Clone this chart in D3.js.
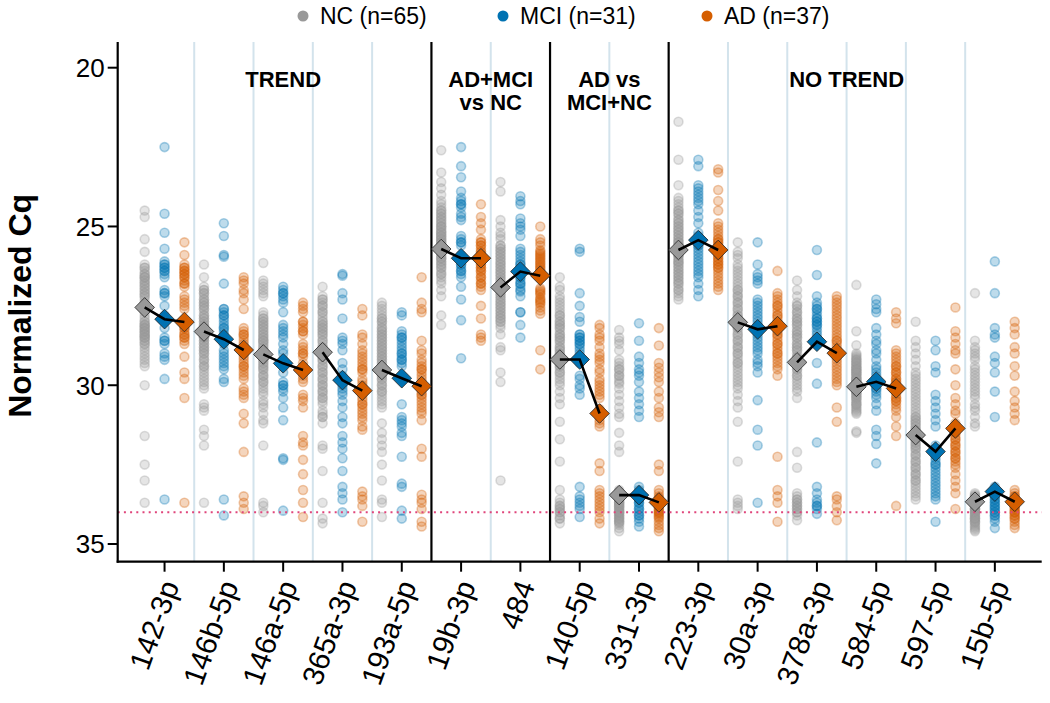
<!DOCTYPE html>
<html><head><meta charset="utf-8">
<script src="https://cdn.jsdelivr.net/npm/d3@7"></script>
<style>body{margin:0;background:#fff} svg{display:block}</style>
</head><body>
<svg id="c" width="1050" height="703"></svg>
<script>
const categories = ["142-3p","146b-5p","146a-5p","365a-3p","193a-5p","19b-3p","484","140-5p","331-3p","223-3p","30a-3p","378a-3p","584-5p","597-5p","15b-5p"];
const groups = ["NC (n=65)","MCI (n=31)","AD (n=37)"];
const groupColors = ["#999999","#0072B2","#D55E00"];
const yTicks = [20,25,30,35];
const threshold = 34;
const sections = [
  {lines:["TREND"], from:0, to:4},
  {lines:["AD+MCI","vs NC"], from:5, to:6},
  {lines:["AD vs","MCI+NC"], from:7, to:8},
  {lines:["NO TREND"], from:9, to:14}
];

const ncValues = [
 [24.5,24.7,25.4,25.8,26.2,26.3,26.4,26.5,26.6,26.6,26.7,26.8,26.8,26.9,27.0,27.0,27.1,27.2,27.2,27.3,27.4,27.5,27.6,27.7,27.8,27.9,28.0,28.0,28.1,28.1,28.2,28.2,28.3,28.3,28.4,28.4,28.5,28.5,28.6,28.7,28.8,28.9,29.0,29.1,29.2,29.3,29.4,30.0,31.6,32.5,33.0,33.7,26.3,26.5,26.7,26.9,27.1,28.1,28.3,28.5,28.7,28.2,28.4,28.6,26.6],
 [26.2,26.6,26.9,27.0,27.1,27.2,27.3,27.4,27.5,27.6,27.7,27.8,27.9,28.0,28.1,28.2,28.3,28.4,28.5,28.6,28.7,28.8,28.9,29.0,29.1,29.2,29.3,29.4,29.5,29.6,29.7,29.8,29.9,30.0,30.1,30.6,30.7,30.8,31.4,31.6,31.9,33.7,27.0,27.1,27.3,27.5,27.6,27.8,27.9,28.0,28.1,28.2,28.3,28.4,28.5,28.6,28.7,28.8,28.9,29.0,29.2,29.4,27.4,28.2,28.5],
 [26.15,26.7,26.8,26.9,27.0,27.1,27.2,27.7,27.8,27.9,28.0,28.1,28.2,28.3,28.4,28.5,28.6,28.7,28.8,28.9,29.0,29.1,29.2,29.3,29.4,29.5,29.6,29.7,29.8,29.9,30.0,30.1,30.2,30.6,30.7,30.9,31.1,31.2,31.9,33.7,33.8,34.0,28.0,28.2,28.4,28.5,28.6,28.7,28.8,28.9,29.0,29.1,29.2,29.3,29.5,29.7,29.9,28.3,28.6,29.0,29.4,27.9,28.1,30.3,30.5],
 [26.9,27.2,27.3,27.4,27.5,27.6,27.7,27.8,28.0,28.1,28.2,28.3,28.4,28.5,28.6,28.7,28.8,28.9,29.0,29.1,29.2,29.3,29.4,29.5,29.6,29.7,29.8,29.9,30.0,30.1,30.2,30.3,30.4,30.5,30.6,30.8,31.0,31.2,31.9,32.0,32.7,33.7,34.2,34.35,27.3,27.5,27.7,28.0,28.1,28.2,28.3,28.4,28.6,28.8,29.0,29.2,29.4,29.6,29.8,30.0,30.2,30.4,30.9,31.0,27.9],
 [27.4,27.5,27.6,27.7,27.8,27.9,28.0,28.1,28.2,28.3,28.4,28.5,28.6,28.7,28.8,28.9,29.0,29.1,29.2,29.3,29.4,29.5,29.6,29.7,29.8,29.9,30.0,30.1,30.2,30.3,30.4,30.5,30.6,30.7,31.2,31.5,31.7,31.9,32.1,32.5,33.0,33.6,33.7,34.15,28.0,28.2,28.4,28.6,28.8,29.0,29.2,29.4,29.6,29.8,30.0,28.3,28.5,28.7,28.9,29.1,29.3,29.5,29.7,27.9,30.2],
 [22.6,23.3,23.6,23.8,24.0,24.2,24.4,24.5,24.6,24.7,24.8,24.9,25.0,25.1,25.2,25.3,25.4,25.5,25.6,25.7,25.8,25.9,26.0,26.1,26.2,26.3,26.4,26.5,26.6,26.8,27.0,27.2,27.8,28.1,24.5,24.7,24.9,25.0,25.1,25.2,25.3,25.4,25.5,25.6,25.7,25.8,25.9,26.0,26.1,26.2,24.8,25.0,25.2,25.4,25.6,25.8,26.0,26.3,26.5,24.6,25.3,25.5,25.7,24.3,26.7],
 [23.6,23.9,24.8,25.0,25.2,25.4,25.6,25.7,25.8,25.9,26.0,26.1,26.2,26.3,26.4,26.5,26.6,26.7,26.8,26.9,27.0,27.1,27.2,27.3,27.4,27.5,27.6,27.7,27.8,27.9,28.0,28.1,28.2,28.4,28.8,28.9,29.6,29.9,33.0,25.6,25.8,26.0,26.2,26.4,26.6,26.8,27.0,27.2,27.4,27.6,27.8,28.0,25.7,25.9,26.1,26.3,26.5,26.7,26.9,27.1,27.3,27.5,27.7,25.3,27.9],
 [26.6,26.9,27.0,27.2,27.4,27.6,27.7,27.8,27.9,28.0,28.1,28.2,28.3,28.4,28.5,28.6,28.7,28.8,28.9,29.0,29.1,29.2,29.3,29.4,29.5,29.6,29.7,29.8,29.9,30.0,30.2,30.4,30.6,31.15,31.7,32.4,33.3,33.6,33.7,33.8,33.9,34.0,34.1,34.2,34.35,27.5,27.8,28.0,28.2,28.4,28.6,28.8,29.0,29.2,29.4,29.6,28.1,28.5,28.9,29.3,33.8,34.0,34.2,33.9,27.3],
 [28.26,28.5,28.6,28.7,28.9,29.2,29.3,29.4,29.5,29.6,29.7,29.8,29.95,30.3,30.5,30.7,30.9,31.0,31.5,31.9,32.1,33.3,33.35,33.4,33.45,33.5,33.55,33.6,33.65,33.7,33.75,33.8,33.85,33.9,33.95,34.0,34.05,34.1,34.15,34.2,34.25,34.3,34.35,34.4,34.5,34.6,33.4,33.5,33.6,33.7,33.8,33.9,34.0,34.1,34.2,34.3,33.6,33.8,34.0,29.5,29.7,29.9,30.1,33.5,33.7],
 [21.7,22.9,23.7,24.1,24.2,24.3,24.4,24.5,24.6,24.7,24.8,24.9,25.0,25.1,25.2,25.3,25.4,25.5,25.6,25.7,25.8,25.9,26.0,26.1,26.2,26.3,26.4,26.5,26.6,26.7,26.8,26.9,27.0,27.1,27.2,27.3,24.5,24.8,25.0,25.2,25.4,25.5,25.6,25.7,25.8,25.9,26.0,26.1,26.2,26.4,26.6,26.8,25.3,25.5,25.7,25.9,26.1,26.3,24.9,25.1,26.5,26.7,27.0,24.6,25.8],
 [25.5,25.8,25.9,26.0,26.2,26.4,26.6,26.8,27.0,27.1,27.2,27.3,27.4,27.5,27.6,27.7,27.8,27.9,28.0,28.1,28.2,28.3,28.4,28.5,28.6,28.7,28.8,28.9,29.0,29.1,29.2,29.3,29.4,29.5,29.6,29.7,29.8,29.9,30.0,30.1,30.3,30.5,30.7,31.15,32.4,33.6,33.7,33.8,33.9,26.5,26.7,26.9,27.2,27.4,27.6,27.8,28.0,28.2,28.4,28.6,28.8,29.0,29.3,26.3,27.0],
 [26.7,27.0,27.2,27.4,27.5,27.6,27.7,27.8,27.9,28.0,28.1,28.2,28.3,28.4,28.5,28.6,28.7,28.8,28.9,29.0,29.1,29.2,29.3,29.4,29.5,29.6,29.7,29.8,29.9,30.0,30.2,30.4,32.1,32.6,33.4,33.5,33.6,33.7,33.8,33.9,34.0,34.1,34.25,27.5,27.7,27.9,28.1,28.3,28.5,28.7,28.9,29.1,29.3,29.5,29.7,33.6,33.8,34.0,33.7,33.9,28.0,28.4,28.8,29.2,30.1],
 [26.84,28.3,28.74,29.0,29.1,29.2,29.3,29.4,29.5,29.6,29.7,29.8,29.9,30.0,30.1,30.2,30.3,30.4,30.5,30.6,30.7,30.8,30.9,31.5,31.45,29.05,29.15,29.25,29.35,29.45,29.55,29.65,29.75,29.85,29.95,30.05,30.15,30.25,30.35,30.45,30.55,30.65,30.75,30.85,29.2,29.4,29.6,29.8,30.0,30.2,30.4,30.6,29.3,29.5,29.7,29.9,30.1,30.3,29.5,29.9,30.0,30.1,29.8,30.2,29.6],
 [28.0,28.6,28.8,29.0,29.2,29.4,29.6,29.8,30.0,30.2,30.4,30.6,30.8,31.0,31.1,31.2,31.3,31.4,31.5,31.6,31.7,31.8,31.9,32.0,32.1,32.2,32.3,32.4,32.5,32.6,32.7,32.8,32.9,33.0,33.1,33.2,33.3,33.4,33.5,33.6,31.0,31.2,31.4,31.6,31.8,32.0,32.2,31.1,31.3,31.5,31.7,31.9,30.9,30.7,30.5,30.3,30.1,29.9,29.7,32.4,32.6,32.8,33.0,31.5,31.6],
 [27.1,28.6,28.8,29.0,29.2,29.4,29.6,29.8,30.0,30.2,30.4,30.6,30.8,31.0,31.2,31.3,33.4,33.45,33.5,33.55,33.6,33.65,33.7,33.75,33.8,33.85,33.9,33.95,34.0,34.05,34.1,34.15,34.2,34.25,34.3,34.35,34.4,34.45,34.5,34.55,34.6,33.5,33.6,33.7,33.8,33.9,34.0,34.1,34.2,34.3,33.6,33.8,34.0,34.2,33.7,33.9,29.1,29.5,29.9,30.3,30.7,28.9,29.7,30.1,33.55]
];
const mciValues = [
 [22.5,24.6,25.2,25.7,26.1,26.2,26.3,26.3,26.4,26.5,26.6,27.0,27.1,27.2,27.5,27.8,27.9,28.0,28.2,28.5,28.6,28.7,29.0,29.1,29.2,29.8,33.6,26.2,26.4,27.1,28.6],
 [24.9,25.3,25.9,25.95,26.8,27.6,27.7,27.8,27.9,28.0,28.1,28.2,28.3,28.4,28.6,28.7,28.9,29.1,29.2,29.3,29.5,29.8,29.9,33.6,34.1,27.6,27.8,28.2,28.5,29.0,29.4],
 [26.9,27.0,27.1,27.2,27.3,27.4,27.7,28.1,28.2,28.4,28.5,28.7,28.9,29.2,29.3,29.6,29.9,30.0,30.1,30.2,30.4,30.7,31.1,32.3,32.35,33.95,28.3,29.0,30.0,27.1,29.4],
 [26.5,26.55,27.1,27.3,27.9,28.5,28.7,28.9,29.3,29.5,29.7,29.8,30.0,30.1,30.3,30.5,30.7,31.0,31.2,31.6,31.8,32.0,32.3,32.7,33.2,33.4,33.6,34.0,29.9,30.2,28.6],
 [27.7,27.8,28.3,28.4,28.5,28.6,28.8,28.9,29.0,29.1,29.2,29.3,29.7,29.8,30.6,31.0,31.1,31.3,31.5,31.6,32.25,33.1,33.2,33.95,34.2,28.5,29.0,29.2,28.7,31.2,29.4],
 [22.5,23.1,23.45,23.9,24.1,24.2,24.3,24.4,24.6,24.8,25.3,25.4,25.5,25.6,26.0,26.1,26.2,26.3,26.4,26.5,26.6,26.9,27.3,27.95,29.15,24.3,25.5,26.2,26.4,24.7,25.9],
 [24.05,24.2,24.3,24.75,24.9,25.0,25.1,25.3,25.7,26.0,26.1,26.2,26.3,26.5,26.6,26.7,26.8,26.9,27.05,27.2,27.7,27.7,28.1,28.5,26.4,26.6,25.9,26.8,27.0,26.2,25.8],
 [25.7,25.8,27.1,27.5,27.85,28.0,28.4,28.5,28.6,28.7,28.8,28.9,29.1,29.3,29.7,30.0,30.3,33.2,33.5,33.7,33.8,33.9,34.15,28.5,28.7,29.0,33.6,29.8,28.4,30.1,28.6],
 [28.05,28.6,29.1,29.3,29.5,29.7,29.9,30.2,30.4,30.6,30.8,31.0,33.2,33.3,33.4,33.5,33.6,33.7,33.8,33.9,34.0,34.1,34.2,34.3,34.45,33.5,33.7,33.9,34.1,33.6,29.6],
 [22.9,23.1,23.7,23.8,23.9,24.0,24.1,24.2,24.3,24.5,24.7,24.9,25.2,25.3,25.4,25.5,25.6,25.7,25.8,25.9,26.0,26.1,26.2,26.3,26.4,26.5,26.6,26.8,27.0,27.2,25.6],
 [25.5,26.2,26.5,26.6,26.8,27.3,27.5,27.6,27.7,27.9,28.0,28.4,28.5,28.7,28.9,29.0,29.2,29.4,29.6,30.47,31.4,31.9,33.7,27.8,28.2,28.6,29.3,26.7,27.4,28.1,28.8],
 [25.74,26.53,27.2,27.4,27.5,27.6,27.7,27.8,27.9,28.0,28.1,28.2,28.3,28.5,28.7,29.3,29.95,31.8,33.2,33.4,33.6,33.7,33.8,33.9,34.05,27.6,27.9,28.1,28.4,33.8,28.0],
 [27.3,27.45,27.6,27.7,28.2,28.4,28.6,28.7,29.0,29.2,29.4,29.6,29.7,29.95,30.1,30.2,30.4,30.6,30.8,31.4,31.6,31.85,32.46,29.8,29.9,30.0,30.3,29.5,29.8,30.1,28.9],
 [28.6,28.9,29.4,29.6,30.3,30.5,30.7,30.9,31.1,31.3,31.9,32.0,32.1,32.2,32.3,32.4,32.5,32.6,32.7,32.8,32.9,33.0,33.1,33.2,33.3,33.4,33.5,33.6,34.3,32.2,32.5],
 [26.1,27.1,28.2,28.5,29.1,29.3,29.6,30.2,31.0,33.2,33.3,33.4,33.5,33.6,33.7,33.8,33.9,34.0,34.1,34.2,34.3,34.5,33.5,33.7,33.9,34.1,33.4,33.6,33.8,34.0,28.4]
];
const adValues = [
 [25.5,25.9,26.2,26.3,26.4,26.5,26.6,26.7,26.8,26.9,26.3,26.6,27.2,27.3,27.5,27.6,28.0,28.1,28.2,28.3,28.4,28.5,28.6,28.7,28.2,28.4,29.1,29.6,29.8,30.4,33.7,26.4,26.8,28.1,28.5,27.4,26.5],
 [26.6,26.7,26.8,27.0,27.1,27.3,27.6,28.2,28.3,28.4,28.5,28.7,28.8,28.9,29.0,29.1,29.2,29.3,29.4,29.5,29.6,29.7,29.8,30.1,30.3,30.4,30.9,31.2,32.1,33.5,33.7,33.9,28.6,29.0,29.4,28.4,30.2],
 [27.4,27.5,27.6,27.7,28.0,28.1,28.2,28.3,28.4,28.7,28.8,28.9,29.0,29.1,29.3,29.4,29.5,29.6,29.7,29.8,29.9,30.3,30.4,30.5,30.7,31.6,31.8,31.9,32.35,32.8,33.3,33.7,34.15,28.0,28.3,29.0,29.5],
 [27.6,27.8,28.4,28.5,28.7,28.9,29.0,29.1,29.2,29.3,29.4,29.5,29.6,29.8,29.9,30.0,30.1,30.2,30.3,30.4,30.5,30.6,30.7,30.8,30.9,31.0,31.1,31.3,31.4,33.35,33.5,33.6,33.8,34.3,29.5,30.2,30.6],
 [26.6,27.4,27.6,27.7,28.6,28.9,29.0,29.2,29.3,29.4,29.5,29.6,29.7,29.8,29.9,30.0,30.1,30.2,30.3,30.4,30.5,30.6,30.7,30.8,30.9,31.1,32.0,32.25,33.45,33.6,33.7,33.9,34.3,34.45,29.5,30.0,30.3],
 [24.3,24.7,24.9,25.1,25.4,25.5,25.6,25.7,25.8,25.9,26.0,26.1,26.2,26.3,26.4,26.5,26.6,26.7,26.8,26.9,27.0,27.5,27.9,28.4,28.5,28.6,25.6,25.8,26.0,26.2,26.4,26.6,25.9,26.3,25.5,26.8,26.1],
 [25.0,25.4,25.5,25.6,25.75,25.85,25.95,26.05,26.15,26.25,26.35,26.45,26.55,26.6,26.95,27.05,27.15,27.25,27.35,27.45,27.55,27.65,27.75,28.9,29.5,25.8,26.0,26.2,26.4,26.5,27.1,27.3,25.9,26.3,26.1,27.0,27.4],
 [28.1,28.2,28.4,28.5,28.6,28.8,29.0,29.1,29.3,29.5,29.6,29.8,30.0,30.1,30.2,30.4,30.75,30.9,31.0,31.1,31.2,31.3,32.46,32.7,33.3,33.4,33.6,33.7,33.8,33.9,34.0,34.2,34.35,29.2,29.9,30.3,33.5],
 [28.2,28.75,29.3,29.45,29.6,29.75,29.9,30.2,30.4,30.7,30.85,31.0,32.5,32.7,33.3,33.4,33.5,33.6,33.65,33.7,33.75,33.8,33.85,33.9,33.95,34.0,34.05,34.1,34.15,34.2,34.3,34.4,34.5,34.6,33.55,33.8,34.0],
 [23.2,23.3,23.85,24.2,24.5,24.9,25.0,25.1,25.2,25.3,25.4,25.5,25.6,25.7,25.8,25.9,26.0,26.1,26.2,26.3,26.4,26.5,26.6,26.7,26.8,26.9,27.0,25.5,25.7,25.9,26.1,26.3,25.4,25.6,25.8,26.0,26.2],
 [26.4,27.1,27.2,27.3,27.4,27.5,27.6,27.7,27.8,27.9,28.0,28.2,28.3,28.4,28.5,28.6,28.7,28.8,28.9,29.0,29.1,29.2,29.3,29.4,29.5,29.7,32.25,33.3,33.5,33.7,34.3,27.5,27.8,28.1,28.4,28.7,29.0],
 [27.2,27.3,27.4,27.5,27.6,27.7,27.8,27.9,28.0,28.1,28.2,28.3,28.4,28.5,28.6,28.7,28.8,28.9,29.0,29.1,29.2,29.3,29.4,29.5,29.6,29.7,29.8,29.9,30.0,30.7,31.15,33.5,33.6,33.8,34.0,34.25,28.6],
 [27.7,27.9,28.05,28.9,29.0,29.1,29.2,29.3,29.4,29.5,29.6,29.7,29.8,29.9,30.0,30.1,30.2,30.3,30.4,30.5,30.6,30.7,30.8,31.0,31.3,31.6,33.8,29.4,29.6,29.8,30.0,30.2,30.4,30.0,30.1,29.9,30.5],
 [27.55,28.3,28.5,28.7,28.9,29.0,29.5,30.4,30.6,30.8,30.9,31.2,31.3,31.4,31.5,31.6,31.7,31.8,31.9,32.0,32.1,32.2,32.3,32.4,32.5,32.6,32.8,33.0,33.2,33.4,33.9,31.5,31.7,31.9,32.1,30.0,32.3],
 [28.0,28.2,28.4,28.8,29.0,29.4,29.7,30.2,30.5,30.7,30.9,31.1,33.3,33.4,33.5,33.6,33.7,33.8,33.9,34.0,34.1,34.2,34.3,34.4,34.5,33.5,33.6,33.7,33.8,33.9,34.0,34.1,34.2,33.6,33.8,34.0,33.7]
];
// group summary (diamonds)
const ncMedian  = [27.55,28.31,29.03,28.96,29.52,25.71,26.92,29.19,33.46,25.74,28.02,29.28,30.05,31.57,33.67];
const mciMedian = [27.92,28.55,29.31,29.84,29.78,26.00,26.42,29.19,33.46,25.43,28.24,28.63,29.89,32.09,33.35];
const adMedian  = [28.01,28.89,29.52,30.17,30.03,26.00,26.55,30.89,33.69,25.74,28.14,28.99,30.10,31.36,33.67];

const allValues = [ncValues, mciValues, adValues];
const allMedians = [ncMedian, mciMedian, adMedian];

const panel = {left:117.7, right:1041.7, top:42, bottom:561.7};
const FONT = "'Liberation Sans', Arial, Helvetica, sans-serif";
const svg = d3.select("#c");

const x = d3.scaleLinear().domain([-0.79, categories.length - 1 + 0.79]).range([panel.left, panel.right]);
const y = d3.scaleLinear().domain([20, 35]).range([67.7, 544]);
const dodge = [-0.335, 0, 0.335];

// separators
const sepG = svg.append("g");
const sectionBounds = new Set(sections.slice(0, -1).map(s => s.to));
for (let i = 0; i < categories.length - 1; i++) {
  const xv = x(i + 0.5);
  const isSection = sectionBounds.has(i);
  sepG.append("line")
    .attr("x1", xv).attr("x2", xv).attr("y1", panel.top).attr("y2", panel.bottom)
    .attr("stroke", isSection ? "#000" : "#d3e3ec")
    .attr("stroke-width", isSection ? 2.2 : 2);
}

// points
const ptG = svg.append("g");
allValues.forEach((vals, g) => {
  vals.forEach((arr, ci) => {
    ptG.selectAll(null).data(arr).enter().append("circle")
      .attr("cx", x(ci + dodge[g]))
      .attr("cy", d => y(d))
      .attr("r", 4.5)
      .attr("fill", groupColors[g]).attr("fill-opacity", 0.26)
      .attr("stroke", groupColors[g]).attr("stroke-opacity", 0.32)
      .attr("stroke-width", 1.6);
  });
});

// threshold dotted line
svg.append("line")
  .attr("x1", panel.left).attr("x2", panel.right)
  .attr("y1", y(threshold)).attr("y2", y(threshold))
  .attr("stroke", "#e0457b").attr("stroke-width", 2)
  .attr("stroke-dasharray", "2,4.2");

// diamonds
const dG = svg.append("g");
const ds = 9.8;
categories.forEach((c, ci) => {
  allMedians.forEach((med, g) => {
    const cx = x(ci + dodge[g]), cy = y(med[ci]);
    dG.append("path")
      .attr("d", `M${cx},${cy - ds}L${cx + ds},${cy}L${cx},${cy + ds}L${cx - ds},${cy}Z`)
      .attr("fill", groupColors[g]).attr("stroke", "#222").attr("stroke-width", 0.8);
  });
});
// connecting lines
const line = d3.line().x(d => x(d[0])).y(d => y(d[1]));
categories.forEach((c, ci) => {
  const pts = allMedians.map((med, g) => [ci + dodge[g], med[ci]]);
  svg.append("path").attr("d", line(pts)).attr("fill", "none")
    .attr("stroke", "#000").attr("stroke-width", 2.6);
});

// axes
const axG = svg.append("g");
axG.append("line").attr("x1", panel.left).attr("x2", panel.left).attr("y1", panel.top).attr("y2", panel.bottom + 1)
  .attr("stroke", "#000").attr("stroke-width", 2.2);
axG.append("line").attr("x1", panel.left - 1).attr("x2", panel.right).attr("y1", panel.bottom).attr("y2", panel.bottom)
  .attr("stroke", "#000").attr("stroke-width", 2.2);
yTicks.forEach(t => {
  axG.append("line").attr("x1", panel.left - 10).attr("x2", panel.left).attr("y1", y(t)).attr("y2", y(t))
    .attr("stroke", "#000").attr("stroke-width", 2);
  axG.append("text").attr("x", panel.left - 13).attr("y", y(t)).attr("dy", "0.36em")
    .attr("text-anchor", "end").attr("font-family", FONT).attr("font-size", 26).attr("fill", "#000").text(t);
});
categories.forEach((c, ci) => {
  const xv = x(ci);
  axG.append("line").attr("x1", xv).attr("x2", xv).attr("y1", panel.bottom).attr("y2", panel.bottom + 10)
    .attr("stroke", "#000").attr("stroke-width", 2);
  axG.append("text")
    .attr("transform", `translate(${xv + 5},${panel.bottom + 20}) rotate(-70)`)
    .attr("text-anchor", "end").attr("dy", "0.36em")
    .attr("font-family", FONT).attr("font-size", 29.5).attr("fill", "#000").text(c);
});
svg.append("text")
  .attr("transform", `translate(31,${y(27.5)}) rotate(-90)`)
  .attr("text-anchor", "middle").attr("font-family", FONT).attr("font-weight", "bold")
  .attr("font-size", 32).text("Normalized Cq");

// section labels
sections.forEach(s => {
  const cx = (x(s.from) + x(s.to)) / 2;
  s.lines.forEach((ln, li) => {
    svg.append("text").attr("x", cx).attr("y", 87 + li * 23)
      .attr("text-anchor", "middle").attr("font-family", FONT).attr("font-weight", "bold")
      .attr("font-size", 22).text(ln);
  });
});

// legend
const legX = [303, 503, 707];
groups.forEach((g, i) => {
  svg.append("circle").attr("cx", legX[i]).attr("cy", 16).attr("r", 5.5).attr("fill", groupColors[i]);
  svg.append("text").attr("x", legX[i] + 17).attr("y", 16).attr("dy", "0.36em")
    .attr("font-family", FONT).attr("font-size", 23).text(g);
});
</script></body></html>
